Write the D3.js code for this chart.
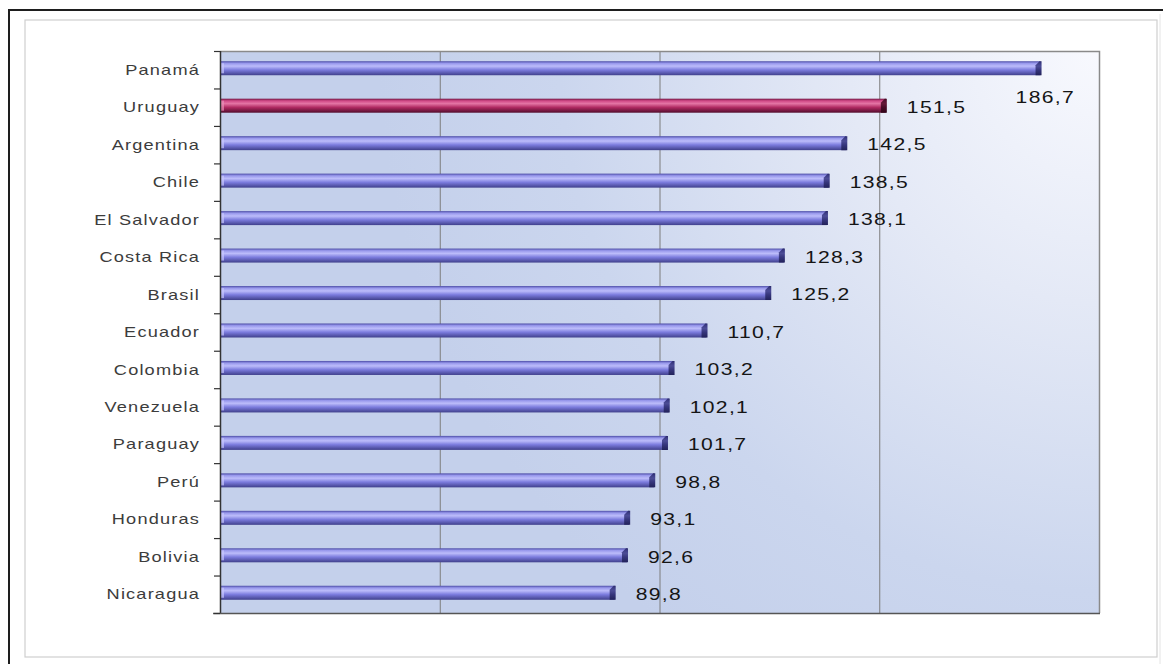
<!DOCTYPE html>
<html><head><meta charset="utf-8">
<script src="https://cdn.jsdelivr.net/npm/d3@7"></script>
<style>html,body{margin:0;padding:0;background:#fff;overflow:hidden}</style>
</head><body>
<svg id="chart" width="1163" height="664"></svg>
<script>
const categories = ["Panamá","Uruguay","Argentina","Chile","El Salvador","Costa Rica","Brasil","Ecuador","Colombia","Venezuela","Paraguay","Perú","Honduras","Bolivia","Nicaragua"];
const values = [186.7,151.5,142.5,138.5,138.1,128.3,125.2,110.7,103.2,102.1,101.7,98.8,93.1,92.6,89.8];
const highlighted = ["Uruguay"];
const xDomain = [0, 200];
const gridTicks = [50, 100, 150];

const W = 1163, H = 664;
const plot = {left: 220, top: 51, right: 1099, bottom: 613};
const svg = d3.select("#chart");
const defs = svg.append("defs");

// background gradient for plot area
const bg = defs.append("radialGradient").attr("id","bgGrad")
  .attr("gradientUnits","userSpaceOnUse")
  .attr("cx", plot.right).attr("cy", plot.top).attr("r", 720);
bg.append("stop").attr("offset","0%").attr("stop-color","#f8f9fe");
bg.append("stop").attr("offset","35%").attr("stop-color","#e4e9f6");
bg.append("stop").attr("offset","75%").attr("stop-color","#cbd6ee");
bg.append("stop").attr("offset","100%").attr("stop-color","#c4d0eb");

function barGrad(id, c) {
  const g = defs.append("linearGradient").attr("id", id).attr("x1",0).attr("y1",0).attr("x2",0).attr("y2",1);
  g.append("stop").attr("offset","0%").attr("stop-color", c[0]);
  g.append("stop").attr("offset","15%").attr("stop-color", c[1]);
  g.append("stop").attr("offset","35%").attr("stop-color", c[2]);
  g.append("stop").attr("offset","62%").attr("stop-color", c[3]);
  g.append("stop").attr("offset","100%").attr("stop-color", c[4]);
}
barGrad("blueBar", ["#4c4ca6","#9898ec","#bcbcfa","#7c7cde","#40408c"]);
barGrad("redBar", ["#701440","#d04886","#e474a4","#b02a62","#520c2c"]);
barGrad("blueCap", ["#2a2a6a","#3c3c86","#4c4c96","#36367c","#22225a"]);
barGrad("redCap", ["#3c061c","#561030","#641636","#480a26","#300418"]);

// frames
svg.append("rect").attr("x",25).attr("y",20).attr("width",1132).attr("height",637)
  .attr("fill","#fff").attr("stroke","#cfcfcf").attr("stroke-width",1.2);
svg.append("line").attr("x1",8).attr("x2",W).attr("y1",10).attr("y2",10).attr("stroke","#1e1e1e").attr("stroke-width",2);
svg.append("line").attr("x1",9).attr("x2",9).attr("y1",10).attr("y2",H).attr("stroke","#1e1e1e").attr("stroke-width",2);
svg.append("line").attr("x1",1160).attr("x2",1160).attr("y1",14).attr("y2",H).attr("stroke","#e4e4e4").attr("stroke-width",1);

const x = d3.scaleLinear().domain(xDomain).range([plot.left, plot.right]);
const y = d3.scaleBand().domain(categories).range([plot.top, plot.bottom]);

// plot background
svg.append("rect").attr("x",plot.left).attr("y",plot.top)
  .attr("width",plot.right-plot.left).attr("height",plot.bottom-plot.top)
  .attr("fill","url(#bgGrad)");

// gridlines
svg.append("g").selectAll("line").data(gridTicks).join("line")
  .attr("x1", d=>x(d)+0.5).attr("x2", d=>x(d)+0.5)
  .attr("y1", plot.top).attr("y2", plot.bottom)
  .attr("stroke","#7c7c7c").attr("stroke-width",1);

// plot border (top/right)
svg.append("path")
  .attr("d", `M${plot.left},${plot.top+0.5}H${plot.right+0.5}V${plot.bottom}`)
  .attr("fill","none").attr("stroke","#8a8a8a").attr("stroke-width",1.5);

// bars
const barH = 14;
const fmt = v => d3.format(".1f")(v).replace(".", ",");
const data = categories.map((c,i)=>({cat:c, val:values[i], hi: highlighted.includes(c)}));
const bars = svg.append("g").selectAll("g").data(data).join("g");
const cy = d => y(d.cat) + y.bandwidth()/2 - 1.5;
bars.append("rect")
  .attr("x", plot.left+1).attr("y", d=>cy(d)-barH/2)
  .attr("width", d=>x(d.val)-plot.left-1).attr("height", barH)
  .attr("fill", d=>d.hi ? "url(#redBar)" : "url(#blueBar)");
// end caps
bars.append("path")
  .attr("d", d => {
    const xe = x(d.val), t = cy(d)-barH/2;
    return `M${xe-5},${t+4}L${xe-1},${t}H${xe+1}V${t+barH}H${xe-5}Z`;
  })
  .attr("fill", d=>d.hi ? "url(#redCap)" : "url(#blueCap)");
// left start highlight
bars.append("rect")
  .attr("x", plot.left+1).attr("y", d=>cy(d)-barH/2+2)
  .attr("width", 3).attr("height", barH-4)
  .attr("fill", d=>d.hi ? "#e890b8" : "#c8c8ff").attr("opacity",0.7);

// axes
const axisG = svg.append("g");
axisG.append("line").attr("x1",plot.left+0.5).attr("x2",plot.left+0.5)
  .attr("y1",plot.top).attr("y2",plot.bottom).attr("stroke","#333").attr("stroke-width",1.5);
axisG.append("line").attr("x1",plot.left-7).attr("x2",plot.right+1)
  .attr("y1",plot.bottom+0.5).attr("y2",plot.bottom+0.5).attr("stroke","#555").attr("stroke-width",1.5);
const bounds = categories.map(c=>y(c)).concat([y.range()[1]]);
axisG.selectAll("line.tick").data(bounds).join("line").attr("class","tick")
  .attr("x1",plot.left-6).attr("x2",plot.left)
  .attr("y1",d=>d+0.5).attr("y2",d=>d+0.5).attr("stroke","#333").attr("stroke-width",1.2);

// category labels
svg.append("g").selectAll("g").data(data).join("g")
  .attr("transform", d=>`translate(200,${y(d.cat)+y.bandwidth()/2}) scale(1.3,1)`)
  .append("text").attr("text-anchor","end").attr("dy","0.36em")
  .attr("font-family","Arial, 'Liberation Sans', sans-serif").attr("font-size",14)
  .attr("letter-spacing",0.9).attr("fill","#3c3c3c")
  .text(d=>d.cat);

// value labels
const labelScale = 1.32;
const vl = svg.append("g").selectAll("g").data(data).join("g");
vl.each(function(d){
  const g = d3.select(this);
  const t = g.append("text").attr("dy","0.36em")
    .attr("font-family","Arial, 'Liberation Sans', sans-serif").attr("font-size",16)
    .attr("letter-spacing",1).attr("fill","#151515").text(fmt(d.val));
  const w = t.node().getComputedTextLength()*labelScale;
  let lx = x(d.val)+21, ly = cy(d)+1.5, anchor = "start";
  if (lx + w > plot.right - 4) { lx = plot.right - 24; ly = cy(d) + 29; anchor = "end"; }
  t.attr("text-anchor", anchor);
  g.attr("transform", `translate(${lx},${ly}) scale(${labelScale},1)`);
});
</script>
</body></html>
